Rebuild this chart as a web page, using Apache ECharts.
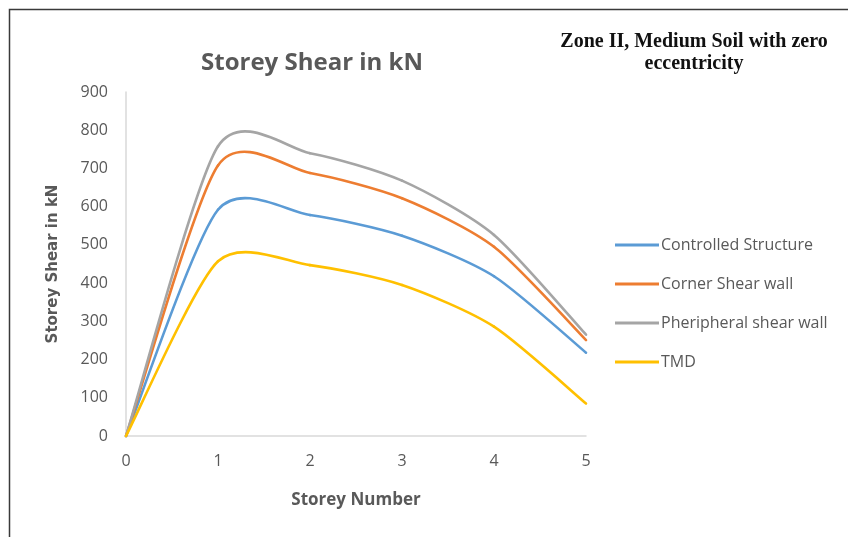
<!DOCTYPE html>
<html>
<head>
<meta charset="utf-8">
<script src="https://cdn.jsdelivr.net/npm/echarts@6/dist/echarts.min.js"></script>
<style>html,body{margin:0;padding:0;background:#fff}#c{width:848px;height:537px}</style>
</head>
<body>
<div id="c"></div>
<script>
const storeys = [0, 1, 2, 3, 4, 5];
const controlledStructure = [0, 592, 578, 524, 418, 218];
const cornerShearWall = [0, 708, 688, 622, 495, 251];
const peripheralShearWall = [0, 758, 740, 668, 526, 265];
const tmd = [0, 457, 447, 395, 286, 85];
const seriesNames = ['Controlled Structure', 'Corner Shear wall', 'Pheripheral shear wall', 'TMD'];
const yTicks = [0, 100, 200, 300, 400, 500, 600, 700, 800, 900];

const colors = ['#5B9BD5', '#ED7D31', '#A5A5A5', '#FFC000'];
const allValues = [controlledStructure, cornerShearWall, peripheralShearWall, tmd];
const K = 0.125;

function makeRender(values, color) {
  return function (params, api) {
    if (params.dataIndex !== 0) return null;
    const pts = storeys.map((x, i) => api.coord([x, values[i]]));
    const n = pts.length;
    const children = [];
    for (let i = 0; i < n - 1; i++) {
      const p0 = pts[Math.max(i - 1, 0)], p1 = pts[i], p2 = pts[i + 1], p3 = pts[Math.min(i + 2, n - 1)];
      children.push({
        type: 'bezierCurve',
        shape: {
          x1: p1[0], y1: p1[1],
          cpx1: p1[0] + K * (p2[0] - p0[0]), cpy1: p1[1] + K * (p2[1] - p0[1]),
          cpx2: p2[0] - K * (p3[0] - p1[0]), cpy2: p2[1] - K * (p3[1] - p1[1]),
          x2: p2[0], y2: p2[1]
        },
        style: { stroke: color, lineWidth: 2.6, fill: null, lineCap: 'round' }
      });
    }
    return { type: 'group', children: children };
  };
}

const chart = echarts.init(document.getElementById('c'), null, { renderer: 'canvas' });
const font = '"Open Sans", "Noto Sans", sans-serif';
chart.setOption({
  animation: false,
  color: colors,
  backgroundColor: '#fff',
  graphic: [{
    type: 'rect', left: 7, top: 7,
    shape: { width: 900, height: 600 },
    style: { fill: null, stroke: '#3a3a3a', lineWidth: 1.5 }
  }],
  title: [{
    text: 'Storey Shear in kN',
    left: 307, top: 46, textAlign: 'center',
    textStyle: { fontFamily: font, fontSize: 24, fontWeight: 'bold', color: '#595959' }
  }, {
    text: 'Zone II, Medium Soil with zero\neccentricity',
    left: 689, top: 26, textAlign: 'center',
    textStyle: { fontFamily: '"Liberation Serif", serif', fontSize: 20, fontWeight: 'bold', color: '#111', lineHeight: 22 }
  }],
  legend: {
    orient: 'vertical', left: 610, top: 232,
    itemWidth: 44, itemHeight: 3, itemGap: 23,
    icon: 'rect',
    data: seriesNames,
    textStyle: { fontFamily: font, fontSize: 16, color: '#595959', padding: [0, 0, 0, -3] }
  },
  grid: { left: 126, right: 262, top: 92, bottom: 101, containLabel: false },
  xAxis: {
    type: 'value', min: 0, max: 5, interval: 1,
    name: 'Storey Number', nameLocation: 'middle', nameGap: 56,
    nameTextStyle: { fontFamily: font, fontSize: 17, fontWeight: 'bold', color: '#595959' },
    axisLine: { show: true, lineStyle: { color: '#D9D9D9', width: 1.5 } },
    axisTick: { show: false },
    splitLine: { show: false },
    axisLabel: { fontFamily: font, fontSize: 16, color: '#595959', margin: 17 }
  },
  yAxis: {
    type: 'value', min: 0, max: 900, interval: 100,
    name: 'Storey Shear in kN', nameLocation: 'middle', nameGap: 65, nameRotate: 90,
    nameTextStyle: { fontFamily: '"DejaVu Sans", sans-serif', fontSize: 15, fontWeight: 'bold', color: '#595959' },
    axisLine: { show: true, lineStyle: { color: '#D9D9D9', width: 1.5 } },
    axisTick: { show: false },
    splitLine: { show: false },
    axisLabel: { fontFamily: font, fontSize: 16, color: '#595959', margin: 18,
      formatter: v => yTicks.indexOf(v) >= 0 ? String(v) : '' }
  },
  series: allValues.map((vals, si) => ({
    type: 'custom',
    name: seriesNames[si],
    coordinateSystem: 'cartesian2d',
    encode: { x: 0, y: 1 },
    data: storeys.map((x, i) => [x, vals[i]]),
    renderItem: makeRender(vals, colors[si]),
    itemStyle: { color: colors[si] },
    clip: false
  }))
});
</script>
</body>
</html>
